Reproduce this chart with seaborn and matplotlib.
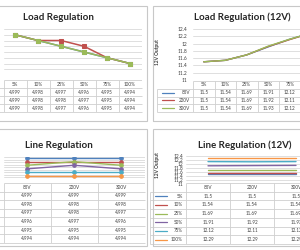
import numpy as np
import matplotlib.pyplot as plt
import seaborn as sns
from matplotlib.patches import Rectangle
from matplotlib.ticker import FuncFormatter

sns.set_style("white")
plt.rcParams["font.family"] = ["Lato", "DejaVu Sans"]

# data
loads = ["5%", "10%", "25%", "50%", "75%", "100%"]
inputs = ["85V", "220V", "300V"]
v5_85 = [4.999, 4.998, 4.997, 4.996, 4.995, 4.994]
v5_220 = [4.999, 4.998, 4.998, 4.997, 4.995, 4.994]
v5_300 = [4.999, 4.998, 4.997, 4.996, 4.995, 4.994]
v12_85 = [11.5, 11.54, 11.69, 11.91, 12.12, 12.29]
v12_220 = [11.5, 11.54, 11.69, 11.92, 12.11, 12.29]
v12_300 = [11.5, 11.54, 11.69, 11.93, 12.12, 12.29]

input_colors = ["#4F81BD", "#C0504D", "#9BBB59"]
load_colors = ["#4F81BD", "#C0504D", "#9BBB59", "#8064A2", "#4BACC6", "#F79646"]

W, H = 300, 250
grid_c = "#D9D9D9"
line_c = "#CFCFCF"
txt_c = "#404040"

fig = plt.figure(figsize=(3, 2.5), dpi=100)


def px_axes(x0, y0, x1, y1):
    return fig.add_axes([x0 / W, 1 - y1 / H, (x1 - x0) / W, (y1 - y0) / H])


def panel(x0, y0, x1, y1, title, tx, ty):
    fig.add_artist(Rectangle((x0 / W, 1 - y1 / H), (x1 - x0) / W, (y1 - y0) / H,
                             transform=fig.transFigure, fill=False,
                             ec="#C8C8C8", lw=0.8))
    fig.text(tx / W, 1 - ty / H, title, ha="center", va="center",
             fontsize=7, fontweight="bold", color="#262626")


def style_plot(ax, n, ylim, yticks):
    ax.set_xlim(-0.5, n - 0.5)
    ax.set_ylim(*ylim)
    ax.set_yticks(yticks)
    ax.set_xticks([])
    ax.grid(axis="y", color=grid_c, lw=0.6)
    for s in ax.spines.values():
        s.set_visible(False)
    ax.set_xlabel("")
    ax.set_ylabel("")


def table(ax, col_labels, row_labels, rows, colors, col_px):
    n, m = len(col_labels), len(row_labels)
    ax.set_xlim(-0.5, n - 0.5)
    ax.set_ylim(m + 0.5, -0.5)
    ax.axis("off")
    u = 1.0 / col_px  # data units per pixel
    left = -0.5 - 36 * u
    ax.hlines(-0.5, -0.5, n - 0.5, color=line_c, lw=0.6)
    ax.hlines(np.arange(m + 1) + 0.5, left, n - 0.5, color=line_c, lw=0.6, clip_on=False)
    ax.vlines(np.arange(n + 1) - 0.5, -0.5, m + 0.5, color=line_c, lw=0.6)
    ax.vlines(left, 0.5, m + 0.5, color=line_c, lw=0.6, clip_on=False)
    for j, lab in enumerate(col_labels):
        ax.text(j, 0, lab, ha="center", va="center", fontsize=3.3, color=txt_c)
    for i, (lab, vals, c) in enumerate(zip(row_labels, rows, colors)):
        y = i + 1
        ax.plot([-0.5 - 31 * u, -0.5 - 19 * u], [y, y], color=c, lw=0.9, clip_on=False)
        ax.text(-0.5 - 3 * u, y, lab, ha="right", va="center", fontsize=3.3,
                color=txt_c, clip_on=False)
        for j, v in enumerate(vals):
            ax.text(j, y, f"{v:g}", ha="center", va="center", fontsize=3.3, color=txt_c)


def ylab(ax, tx, ty):
    fig.text(tx / W, 1 - ty / H, "12V Output", rotation=90, ha="center",
             va="center", fontsize=3.5, fontweight="bold", color=txt_c)


fmt = FuncFormatter(lambda v, p: f"{v:g}")

# --- top left: Load Regulation
panel(-20, 6, 147, 121, "Load Regulation", 58, 17)
ax = px_axes(3.5, 29, 141.5, 75)
x_load = np.arange(len(loads))
for vals, c in zip([v5_85, v5_220, v5_300], input_colors):
    sns.lineplot(x=x_load, y=vals, color=c, marker="s", markersize=3.2,
                 markeredgecolor=c, lw=1.1, ax=ax, legend=False)
style_plot(ax, len(loads), (4.992, 5.0), np.arange(4.992, 5.0005, 0.001))
ax.set_yticklabels([])
ax.tick_params(length=0)
tab = px_axes(3.5, 80, 141.5, 112)
table(tab, loads, inputs, [v5_85, v5_220, v5_300], input_colors, 23)

# --- top right: Load Regulation (12V)
panel(153, 6, 320, 121, "Load Regulation (12V)", 242, 17)
ax = px_axes(193, 29, 322, 80)
for vals, c in zip([v12_85, v12_220, v12_300], input_colors):
    sns.lineplot(x=x_load, y=vals, color=c, lw=1.0, ax=ax, legend=False)
style_plot(ax, len(loads), (11, 12.4), np.arange(11, 12.41, 0.2))
ax.yaxis.set_major_formatter(fmt)
ax.tick_params(axis="y", length=0, pad=4, labelsize=3.5, labelcolor=txt_c)
ylab(ax, 158, 52)
tab = px_axes(193, 81, 322, 112)
table(tab, loads, inputs, [v12_85, v12_220, v12_300], input_colors, 21.5)

# --- bottom left: Line Regulation
line5 = np.array([v5_85, v5_220, v5_300]).T
line12 = np.array([v12_85, v12_220, v12_300]).T
x_in = np.arange(len(inputs))

panel(-20, 129, 147, 246, "Line Regulation", 59, 145)
ax = px_axes(3.5, 157, 144.5, 180)
for vals, c in zip(line5, load_colors):
    sns.lineplot(x=x_in, y=vals, color=c, marker="o", markersize=2.6,
                 markeredgecolor=c, lw=1.0, ax=ax, legend=False)
style_plot(ax, len(inputs), (4.9929, 4.9993), np.linspace(4.9929, 4.9993, 10))
ax.set_yticklabels([])
ax.tick_params(length=0)
tab = px_axes(3.5, 183, 144.5, 243)
table(tab, inputs, loads, line5, load_colors, 47)

# --- bottom right: Line Regulation (12V)
panel(153, 129, 320, 246, "Line Regulation (12V)", 245, 145)
ax = px_axes(186, 156, 318, 184)
for vals, c in zip(line12, load_colors):
    sns.lineplot(x=x_in, y=vals, color=c, lw=1.0, ax=ax, legend=False)
style_plot(ax, len(inputs), (11, 12.4), np.arange(11, 12.41, 0.2))
ax.yaxis.set_major_formatter(fmt)
ax.tick_params(axis="y", length=0, pad=2, labelsize=3.5, labelcolor=txt_c)
ylab(ax, 158, 165)
tab = px_axes(186, 183, 318, 244)
table(tab, inputs, loads, line12, load_colors, 44)

fig.savefig("out.png", dpi=100, facecolor="white")
